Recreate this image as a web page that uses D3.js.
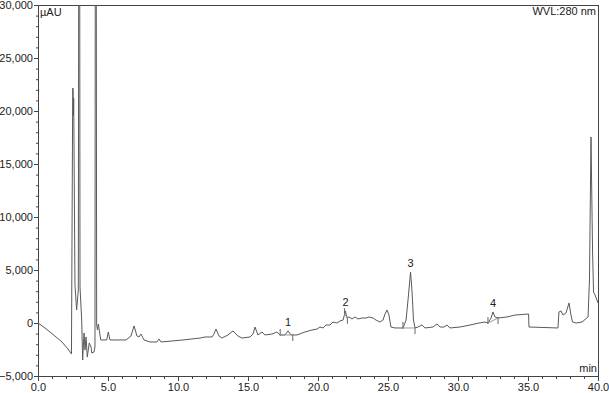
<!DOCTYPE html>
<html><head><meta charset="utf-8">
<script src="https://cdn.jsdelivr.net/npm/d3@7"></script>
<style>
body{margin:0;background:#fff;}
svg{display:block;font-family:"Liberation Sans",Arial,Helvetica,sans-serif;}
</style></head>
<body><svg id="c" width="609" height="393"></svg>
<script>
// chromatogram trace: retention time (min) and signal (µAU)
const times = [0.0,0.5,1.21,1.71,2.14,2.39,2.48,2.51,2.53,2.55,2.64,2.76,2.88,2.95,3.0,3.12,3.19,3.29,3.36,3.43,3.52,3.66,3.79,3.84,4.0,4.07,4.12,4.19,4.25,4.31,4.48,4.91,5.02,5.14,6.29,6.64,6.86,7.07,7.21,7.36,7.57,8.0,8.5,8.64,8.79,10.36,11.57,11.93,12.43,12.57,12.71,12.93,13.14,13.57,13.93,14.29,14.57,15.14,15.36,15.5,15.71,16.0,16.21,16.71,17.07,17.29,17.64,17.86,18.07,18.5,19.07,19.57,19.93,20.14,20.36,20.57,20.86,21.07,21.36,21.57,21.79,21.96,22.07,22.21,22.43,22.64,22.86,23.14,23.43,23.64,23.93,24.14,24.43,24.64,24.79,24.93,25.07,25.21,25.5,26.07,26.29,26.43,26.61,26.71,26.82,26.93,27.14,27.43,27.64,28.21,28.5,28.71,29.0,29.21,29.43,30.14,30.86,31.5,31.93,32.14,32.36,32.5,32.64,32.86,33.5,34.07,35.04,35.07,37.14,37.21,37.36,37.5,37.71,37.93,38.07,38.18,38.43,38.86,39.29,39.39,39.5,39.61,39.68,39.79,40.0];
const signal = [0,-470,-1230,-1790,-2450,-2920,22170,22000,19600,21200,3580,1230,3110,80000,3400,280,-3490,-940,-2550,-1320,-3210,-1890,-2260,-2830,-2740,-2260,80000,-190,-660,-100,-1600,-1600,-850,-1600,-1600,-1230,-280,-1230,-1320,-1040,-1600,-1790,-1790,-1510,-1790,-1600,-1420,-1320,-1320,-1040,-570,-1230,-1420,-1130,-750,-1230,-1420,-1320,-1040,-380,-1130,-850,-1130,-1040,-850,-1130,-1130,-750,-1130,-1130,-850,-660,-570,-380,-470,-190,-190,90,0,190,280,1130,470,570,380,570,380,470,470,570,470,280,90,280,850,1230,750,-380,-470,-470,280,2170,4810,3110,280,-470,-380,-190,-470,-380,-90,-380,-380,-190,-470,-380,-190,0,90,0,470,1040,570,470,570,750,850,-380,-470,1040,1130,750,940,1890,750,90,0,90,570,4060,17550,6890,2920,2640,1890];
// integration marks: peak start / end times
const peakStart = [17.3, 21.9, 26.07, 32.14];
const peakEnd = [18.2, 22.1, 26.93, 32.86];
// numbered peaks
const peakLabels = ["1","2","3","4"];
const peakTimes = [17.86, 21.96, 26.61, 32.5];
const peakValues = [-750, 1130, 4810, 1040];
// axis ticks
const xTicks = [0,5,10,15,20,25,30,35,40];
const yTicks = [-5000,0,5000,10000,15000,20000,25000,30000];

const svg = d3.select("#c");
const L=38, R=598, T=5, B=376;
const x = d3.scaleLinear().domain([0,40]).range([L,R]);
const y = d3.scaleLinear().domain([-5000,30000]).range([B,T]);

svg.append("defs").append("clipPath").attr("id","clip")
  .append("rect").attr("x",L).attr("y",T).attr("width",R-L).attr("height",B-T);

// frame
svg.append("rect").attr("x",L).attr("y",T).attr("width",R-L).attr("height",B-T)
  .attr("fill","none").attr("stroke","#444").attr("stroke-width",1).attr("shape-rendering","crispEdges");

// minor ticks
const xMinor = d3.range(0,40.01,1);
const yMinor = d3.range(-5000,30001,1000);
const ax = svg.append("g").attr("transform",`translate(0,${B})`)
  .call(d3.axisBottom(x).tickValues(xMinor).tickSize(3).tickFormat(""));
const ay = svg.append("g").attr("transform",`translate(${L},0)`)
  .call(d3.axisLeft(y).tickValues(yMinor).tickSize(2).tickFormat(""));
const axM = svg.append("g").attr("transform",`translate(0,${B})`)
  .call(d3.axisBottom(x).tickValues(xTicks).tickSize(5).tickPadding(2).tickFormat(d3.format(".1f")));
const ayM = svg.append("g").attr("transform",`translate(${L},0)`)
  .call(d3.axisLeft(y).tickValues(yTicks).tickSize(4).tickPadding(1).tickFormat(d3.format(",")));
[ax,ay,axM,ayM].forEach(g=>{
  g.select(".domain").attr("stroke","#444");
  g.selectAll("line").attr("stroke","#444");
  g.selectAll("text").attr("fill","#222").style("font-size","11px").style("font-family","'Liberation Sans',Arial,sans-serif");
});

const pts = times.map((t,i)=>[t,signal[i]]);
const line = d3.line().x(d=>x(d[0])).y(d=>y(d[1]));
svg.append("path").datum(pts).attr("d",line).attr("fill","none")
  .attr("stroke","#5a5a5a").attr("stroke-width",1).attr("clip-path","url(#clip)");

// integration markers
const interp = t => { const i = d3.bisectLeft(times,t); if(i<=0) return signal[0];
  const t0=times[i-1], t1=times[i]; return signal[i-1]+(signal[i]-signal[i-1])*(t-t0)/(t1-t0); };
const mk = svg.append("g").attr("stroke","#666").attr("stroke-width",1);
peakStart.forEach((t,i)=>{
  const t2 = peakEnd[i];
  const v1 = interp(t), v2 = interp(t2);
  mk.append("line").attr("x1",x(t)).attr("x2",x(t)).attr("y1",y(v1)-6).attr("y2",y(v1)+1);
  mk.append("line").attr("x1",x(t2)).attr("x2",x(t2)).attr("y1",y(v2)-1).attr("y2",y(v2)+6);
  mk.append("line").attr("x1",x(t)).attr("x2",x(t2)).attr("y1",y(v1)).attr("y2",y(v2)).attr("stroke","#999");
});

// peak labels
svg.append("g").selectAll("text").data(peakLabels).join("text")
  .attr("x",(d,i)=>x(peakTimes[i])).attr("y",(d,i)=>y(peakValues[i])-5)
  .attr("text-anchor","middle").style("font-size","11px").attr("fill","#222").text(d=>d);

svg.append("text").attr("x",L+2).attr("y",T+11).style("font-size","11px").attr("fill","#222").text("µAU");
svg.append("text").attr("x",R-2).attr("y",T+10).attr("text-anchor","end").style("font-size","11px").attr("fill","#222").text("WVL:280 nm");
svg.append("text").attr("x",R-1).attr("y",B-4).attr("text-anchor","end").style("font-size","11px").attr("fill","#222").text("min");
</script></body></html>
